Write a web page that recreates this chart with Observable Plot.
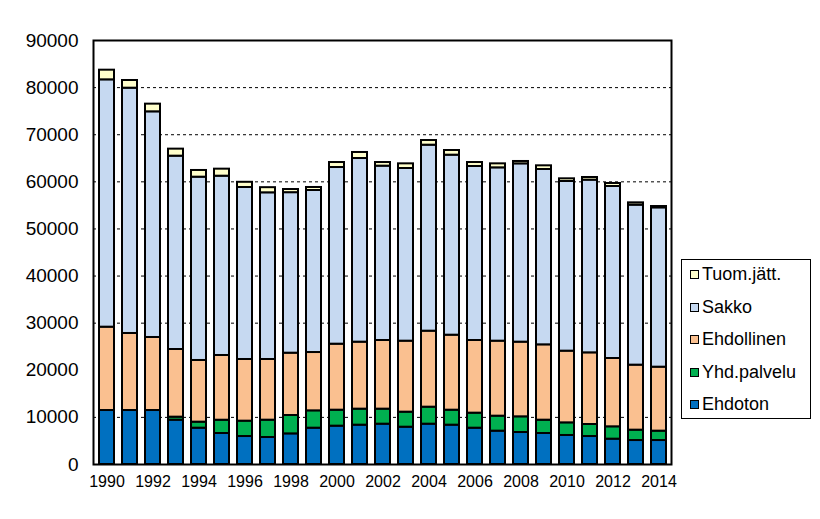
<!DOCTYPE html>
<html><head><meta charset="utf-8">
<script src="https://cdn.jsdelivr.net/npm/d3@7"></script>
<script src="https://cdn.jsdelivr.net/npm/@observablehq/plot@0.6"></script>
<style>
body{margin:0;background:#fff;font-family:"Liberation Sans",Arial,sans-serif;}
#wrap{position:relative;width:820px;height:519px;}
#legend{position:absolute;left:681px;top:259px;width:130px;height:160px;border:1px solid #000;box-sizing:border-box;background:#fff}
.item{position:absolute;left:8px;display:flex;align-items:center;font-size:18px;color:#000;height:22px;line-height:22px;white-space:nowrap}
.sw{width:7px;height:7px;border:1px solid #000;margin-right:3px}
</style></head><body><div id="wrap"></div>
<script>
const years = [1990,1991,1992,1993,1994,1995,1996,1997,1998,1999,2000,2001,2002,2003,2004,2005,2006,2007,2008,2009,2010,2011,2012,2013,2014];
const seriesNames = ["Ehdoton","Yhd.palvelu","Ehdollinen","Sakko","Tuom.jätt."];
const seriesColors = ["#0070C0","#00B050","#FAC090","#C6D9F1","#FFFFCC"];
const ehdoton =    [11460,11460,11460,9410,7710,6580,5940,5730,6500,7710,8140,8350,8560,7920,8560,8350,7710,7080,6790,6580,6160,5940,5380,5090,5090];
const yhdPalvelu = [0,0,0,640,1280,2820,3260,3680,3900,3680,3390,3400,3190,3190,3610,3180,3190,3180,3330,2830,2680,2550,2620,2200,1990];
const ehdollinen = [17690,16350,15500,14360,13090,13740,13090,12880,13230,12380,14010,14220,14570,15070,16130,15920,15420,15920,15850,15990,15220,15210,14500,13800,13580];
const sakko =      [52500,52070,47900,41040,38910,38060,36510,35380,34070,34390,37500,38980,37010,36650,39480,38210,36940,36790,37850,37220,36010,36660,36510,33960,33820];
const tuomJatt =   [2050,1630,1630,1490,1420,1490,1100,1090,670,640,1060,1280,770,990,990,990,840,850,500,780,570,560,640,490,280];
const yTicks = [0,10000,20000,30000,40000,50000,60000,70000,80000,90000];
const gridValues = [10000,30000,40000,50000,60000,70000,80000];
const xTickYears = [1990,1992,1994,1996,1998,2000,2002,2004,2006,2008,2010,2012,2014];

const seriesValues = [ehdoton, yhdPalvelu, ehdollinen, sakko, tuomJatt];
const rows = [];
years.forEach((yr, i) => {
  seriesNames.forEach((s, j) => {
    if (seriesValues[j][i] > 0) rows.push({year: yr, series: s, value: seriesValues[j][i]});
  });
});

const chart = Plot.plot({
  width: 820, height: 519,
  marginLeft: 93, marginRight: 149, marginTop: 40, marginBottom: 55,
  style: {fontFamily: '"Liberation Sans", Arial, sans-serif', fontSize: "16px", color: "#000", background: "#fff"},
  x: {type: "band", domain: years, paddingInner: 0.36, paddingOuter: 0.18, label: null},
  y: {domain: [0, 90000], label: null},
  color: {domain: seriesNames, range: seriesColors},
  marks: [
    Plot.ruleY(gridValues, {stroke: "#000", strokeWidth: 1, strokeDasharray: "3,3"}),
    Plot.barY(rows, {x: "year", y: "value", fill: "series", order: seriesNames, stroke: "#000", strokeWidth: 2}),
    Plot.axisX({ticks: xTickYears, tickSize: 0, tickPadding: 11, fontSize: 16, tickFormat: d3.format("d"), label: null}),
    Plot.axisY({ticks: yTicks, tickSize: 0, tickPadding: 15, fontSize: 19, tickFormat: d3.format("d"), label: null}),
    Plot.frame({stroke: "#000", strokeWidth: 2})
  ]
});
const wrap = document.getElementById("wrap");
wrap.appendChild(chart);

const legend = document.createElement("div");
legend.id = "legend";
const rowTops = [3, 36, 68, 101, 133];
seriesNames.slice().reverse().forEach((s, k) => {
  const idx = seriesNames.indexOf(s);
  const it = document.createElement("div");
  it.className = "item";
  it.style.top = rowTops[k] + "px";
  const sw = document.createElement("span");
  sw.className = "sw";
  sw.style.background = seriesColors[idx];
  it.appendChild(sw);
  it.appendChild(document.createTextNode(s));
  legend.appendChild(it);
});
wrap.appendChild(legend);
</script>
</body></html>
